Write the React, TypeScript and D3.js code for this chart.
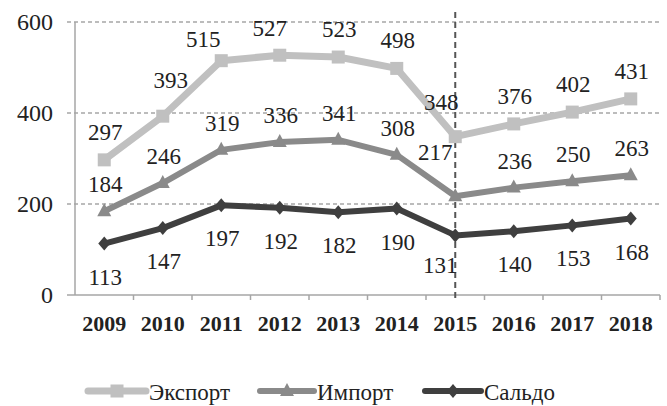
import React from "react";
import * as d3 from "d3";

const years = ["2009", "2010", "2011", "2012", "2013", "2014", "2015", "2016", "2017", "2018"];
const exportVals = [297, 393, 515, 527, 523, 498, 348, 376, 402, 431];
const importVals = [184, 246, 319, 336, 341, 308, 217, 236, 250, 263];
const saldoVals = [113, 147, 197, 192, 182, 190, 131, 140, 153, 168];
const yTicks = [0, 200, 400, 600];
const dividerYear = "2015";
const seriesNames = ["Экспорт", "Импорт", "Сальдо"];

const W = 667;
const H = 406;
const m = { left: 75, right: 660, top: 22, bottom: 295 };
const FONT = "Liberation Serif, Times New Roman, Tinos, serif";

type Series = { name: string; values: number[]; color: string; width: number; marker: string; labelDy: number };

const series: Series[] = [
  { name: seriesNames[0], values: exportVals, color: "#c0c0c0", width: 7, marker: "square", labelDy: -28 },
  { name: seriesNames[1], values: importVals, color: "#8a8a8a", width: 6, marker: "triangle", labelDy: -27 },
  { name: seriesNames[2], values: saldoVals, color: "#3f3f3f", width: 6, marker: "diamond", labelDy: 33 },
];

// manual label nudges (dx, dy) as in the original, keyed "series|year"
const labelNudges: Record<string, [number, number]> = {
  "Экспорт|2010": [8, -8],
  "Экспорт|2011": [-18, 6],
  "Экспорт|2012": [-10, 1],
  "Экспорт|2015": [-14, -7],
  "Импорт|2015": [-20, -17],
  "Сальдо|2015": [-15, -3],
};

function Marker({ kind, x, y, color }: { kind: string; x: number; y: number; color: string }) {
  if (kind === "square") return <rect x={x - 6.5} y={y - 6.5} width={13} height={13} fill={color} />;
  if (kind === "triangle")
    return <path d={`M${x},${y - 8} L${x + 7},${y + 5} L${x - 7},${y + 5} Z`} fill={color} />;
  return <path d={`M${x},${y - 7} L${x + 6},${y} L${x},${y + 7} L${x - 6},${y} Z`} fill={color} />;
}

const txt = { fontFamily: FONT };

export default function App() {
  const x = d3.scaleBand<string>().domain(years).range([m.left, m.right]);
  const y = d3.scaleLinear().domain([0, 600]).range([m.bottom, m.top]);
  const cx = (yr: string) => (x(yr) as number) + x.bandwidth() / 2;
  const line = d3
    .line<number>()
    .x((_, i) => cx(years[i]))
    .y((d) => y(d));
  const divX = cx(dividerYear);
  const legendItems = [
    { s: series[0], x0: 88, x1: 146, tx: 149 },
    { s: series[1], x0: 260, x1: 314, tx: 317 },
    { s: series[2], x0: 425, x1: 481, tx: 484 },
  ];
  return (
    <svg width={W} height={H} style={{ position: "absolute", left: 0, top: 0, background: "#fff", fontFamily: FONT }}>
      {/* gridlines */}
      {yTicks.filter((t) => t > 0).map((t) => (
        <line key={t} x1={m.left - 8} x2={m.right} y1={y(t)} y2={y(t)} stroke="#a6a6a6" strokeWidth={1.3} strokeDasharray="4,3" />
      ))}
      {/* y axis */}
      <line x1={m.left} x2={m.left} y1={m.top} y2={m.bottom} stroke="#a6a6a6" strokeWidth={1.5} />
      <line x1={m.left - 8} x2={m.left} y1={y(0)} y2={y(0)} stroke="#a6a6a6" strokeWidth={1.5} />
      {yTicks.map((t) => (
        <text key={t} style={txt} x={53} y={y(t)} dy="0.35em" textAnchor="end" fontSize={24} fill="#222">{t}</text>
      ))}
      {/* x axis */}
      <line x1={m.left} x2={m.right} y1={m.bottom} y2={m.bottom} stroke="#a6a6a6" strokeWidth={1.5} />
      {years.map((yr) => (
        <line key={yr} x1={(x(yr) as number) + x.bandwidth()} x2={(x(yr) as number) + x.bandwidth()} y1={m.bottom} y2={m.bottom + 5} stroke="#a6a6a6" strokeWidth={1.5} />
      ))}
      {years.map((yr) => (
        <text key={yr} style={txt} x={cx(yr)} y={331} textAnchor="middle" fontSize={22} fontWeight="bold" fill="#222">{yr}</text>
      ))}
      {/* divider */}
      <line x1={divX} x2={divX} y1={12} y2={301} stroke="#555" strokeWidth={2} strokeDasharray="6,4" />
      {/* series */}
      {series.map((s) => (
        <g key={s.name}>
          <path d={line(s.values) as string} fill="none" stroke={s.color} strokeWidth={s.width} strokeLinejoin="round" />
          {s.values.map((v, i) => (
            <Marker key={i} kind={s.marker} x={cx(years[i])} y={y(v)} color={s.color} />
          ))}
        </g>
      ))}
      {series.map((s) =>
        s.values.map((v, i) => {
          const [nx, ny] = labelNudges[s.name + "|" + years[i]] || [1, 0];
          return (
            <text key={s.name + i} style={txt} x={cx(years[i]) + nx} y={y(v) + s.labelDy + ny} dy="0.35em" textAnchor="middle" fontSize={23} fill="#222">{v}</text>
          );
        })
      )}
      {/* legend */}
      {legendItems.map(({ s, x0, x1, tx }) => (
        <g key={s.name}>
          <line x1={x0} x2={x1} y1={391} y2={391} stroke={s.color} strokeWidth={s.width} strokeLinecap="round" />
          <Marker kind={s.marker} x={(x0 + x1) / 2} y={391} color={s.color} />
          <text style={txt} x={tx} y={392} dy="0.35em" fontSize={23} fill="#222">{s.name}</text>
        </g>
      ))}
    </svg>
  );
}
